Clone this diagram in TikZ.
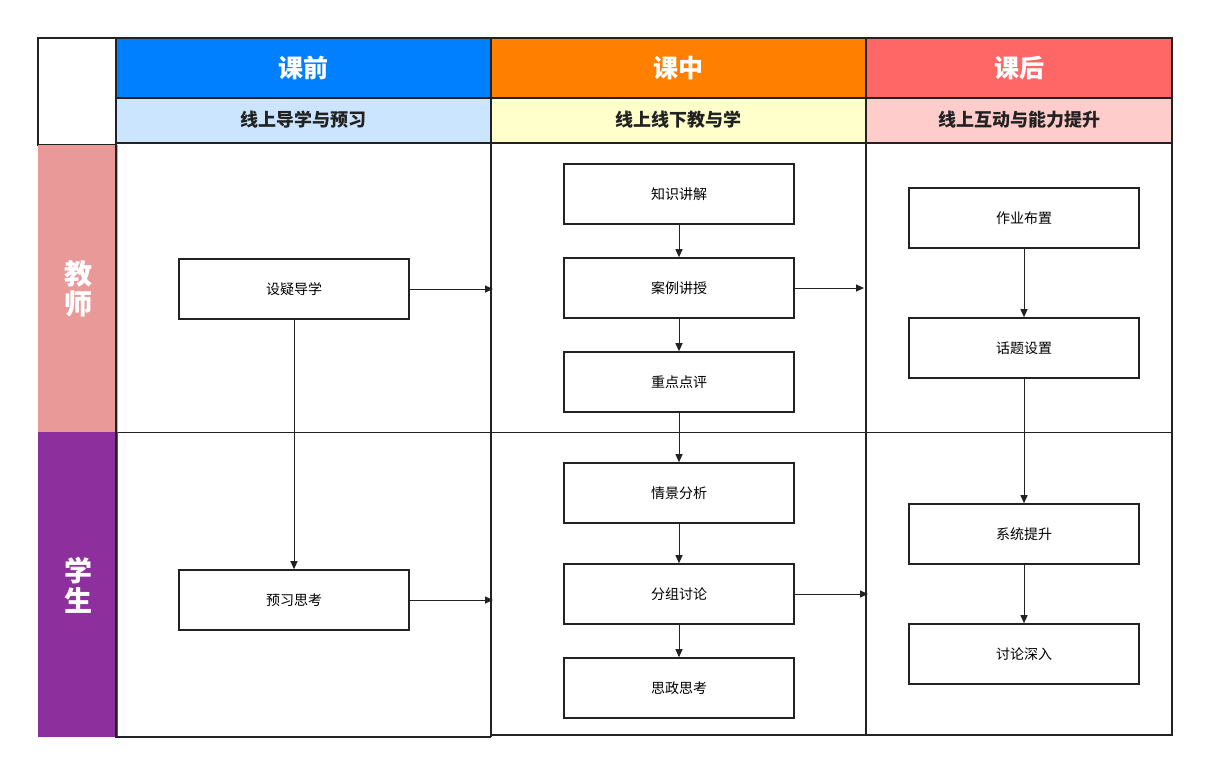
\documentclass[tikz,border=0pt]{standalone}
\usepackage{fontspec}
\setmainfont{Noto Sans CJK SC}
\usetikzlibrary{arrows.meta}
\definecolor{hb}{HTML}{0080FF}\definecolor{ho}{HTML}{FF8000}\definecolor{hr}{HTML}{FF6666}
\definecolor{sb}{HTML}{CCE5FF}\definecolor{sy}{HTML}{FFFFCC}\definecolor{sr}{HTML}{FFCCCC}
\definecolor{tp}{HTML}{EA9999}\definecolor{pp}{HTML}{8E2F9E}\definecolor{ln}{HTML}{222222}
\begin{document}
\begin{tikzpicture}[x=1pt,y=-1pt,
 bx/.style={draw=ln,line width=1.6pt,minimum width=230pt,minimum height=60pt,font=\fontsize{14}{16}\selectfont,inner sep=0},
 ar/.style={draw=ln,line width=1pt,-{Triangle[length=8pt,width=7pt]}},
 hd/.style={text=white,font=\bfseries\fontsize{25}{28}\selectfont},
 sh/.style={text=ln,font=\bfseries\fontsize{18}{20}\selectfont},
 rl/.style={text=white,font=\bfseries\fontsize{28}{30}\selectfont,align=center}]
\useasboundingbox (0,0) rectangle (1209,774);
\fill[white] (0,0) rectangle (1209,774);
% headers
\filldraw[fill=hb,draw=ln,line width=1.6pt] (116,38) rectangle (491,98);
\filldraw[fill=ho,draw=ln,line width=1.6pt] (491,38) rectangle (866,98);
\filldraw[fill=hr,draw=ln,line width=1.6pt] (866,38) rectangle (1172,98);
\filldraw[fill=sb,draw=ln,line width=1.6pt] (116,98) rectangle (491,143);
\filldraw[fill=sy,draw=ln,line width=1.6pt] (491,98) rectangle (866,143);
\filldraw[fill=sr,draw=ln,line width=1.6pt] (866,98) rectangle (1172,143);
\draw[ln,line width=1.6pt] (38,38) rectangle (116,145);
\node[hd] (h1) at (303,68) {课前};
\node[hd] (h2) at (678,68) {课中};
\node[hd] (h3) at (1019,68) {课后};
\node[sh] (s1) at (303,120) {线上导学与预习};
\node[sh] (s2) at (678,120) {线上线下教与学};
\node[sh] (s3) at (1019,120) {线上互动与能力提升};
% rows
\fill[tp] (38,145) rectangle (118,432);
\fill[pp] (38,432) rectangle (118,737);
\node[rl] (r1) at (78,289) {教\\师};
\node[rl] (r2) at (78,585) {学\\生};
\draw[ln,line width=1pt] (118,432) -- (1172,432);
\draw[ln,line width=1.6pt] (116,143) -- (116,737) -- (491,737);
\draw[ln,line width=1.6pt] (491,143) -- (491,737);
\draw[ln,line width=1.6pt] (866,143) -- (866,735) -- (1172,735) -- (1172,143);
\draw[ln,line width=1.6pt] (491,735) -- (866,735);
% boxes
\node[bx] (a1) at (294,289) {设疑导学};
\node[bx] (a2) at (294,600) {预习思考};
\node[bx] (b1) at (679,194) {知识讲解};
\node[bx] (b2) at (679,288) {案例讲授};
\node[bx] (b3) at (679,382) {重点点评};
\node[bx] (b4) at (679,493) {情景分析};
\node[bx] (b5) at (679,594) {分组讨论};
\node[bx] (b6) at (679,688) {思政思考};
\node[bx] (c1) at (1024,218) {作业布置};
\node[bx] (c2) at (1024,348) {话题设置};
\node[bx] (c3) at (1024,534) {系统提升};
\node[bx] (c4) at (1024,654) {讨论深入};
\coordinate (p1) at (493,289);\coordinate (p2) at (493,600);
\coordinate (p3) at (864,288);\coordinate (p4) at (868,594);
% arrows
\draw[ar] (a1) -- (p1);
\draw[ar] (a1) -- (a2);
\draw[ar] (a2) -- (p2);
\draw[ar] (b1) -- (b2);\draw[ar] (b2) -- (b3);\draw[ar] (b3) -- (b4);
\draw[ar] (b4) -- (b5);\draw[ar] (b5) -- (b6);
\draw[ar] (b2) -- (p3);\draw[ar] (b5) -- (p4);
\draw[ar] (c1) -- (c2);\draw[ar] (c2) -- (c3);\draw[ar] (c3) -- (c4);
\end{tikzpicture}
\end{document}
